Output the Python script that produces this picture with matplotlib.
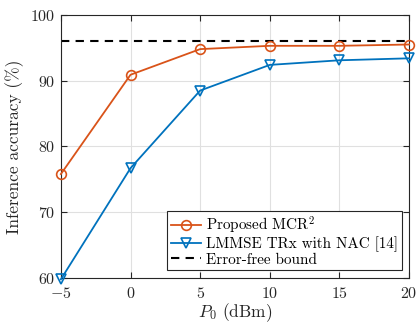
import numpy as np
import matplotlib
matplotlib.use("Agg")
import matplotlib.pyplot as plt

plt.rcParams['font.family'] = 'serif'
plt.rcParams['font.serif'] = ['cmr10']
plt.rcParams['mathtext.fontset'] = 'cm'
plt.rcParams['axes.formatter.use_mathtext'] = True

potencia_dbm = [-5, 0, 5, 10, 15, 20]
precision_mcr2 = [75.8, 90.9, 94.8, 95.3, 95.3, 95.5]
precision_lmmse = [59.8, 76.7, 88.5, 92.4, 93.1, 93.4]
cota_sin_error = 96.0
marcas_y = [60, 70, 80, 90, 100]

fig = plt.figure(figsize=(4.17, 3.24), dpi=100)
ax = fig.add_axes([0.146, 0.142, 0.835, 0.812])

ax.plot(potencia_dbm, precision_mcr2, color='#D95319', lw=1.3, marker='o', ms=7,
        mfc='none', mew=1.2, label=r'Proposed MCR$^2$', clip_on=False, zorder=3)
ax.plot(potencia_dbm, precision_lmmse, color='#0072BD', lw=1.3, marker='v', ms=7.5,
        mfc='none', mew=1.2, label='LMMSE TRx with NAC [14]', clip_on=False, zorder=3)
ax.axhline(cota_sin_error, color='black', lw=1.5, ls=(0, (4, 3)), label='Error-free bound')

ax.set_xlim(-5, 20)
ax.set_ylim(60, 100)
ax.set_xticks(potencia_dbm)
ax.set_yticks(marcas_y)
ax.set_xticklabels([f'${v}$' if v >= 0 else f'$-{abs(v)}$' for v in potencia_dbm])
ax.set_yticklabels([f'${v}$' for v in marcas_y])
ax.tick_params(direction='in', top=True, right=True, labelsize=11.5, length=4,
               colors='0.15', labelcolor='0.15')
ax.tick_params(axis='x', pad=6)
ax.tick_params(axis='y', pad=4)
ax.grid(True, color='0.88', lw=0.8)
ax.set_axisbelow(True)
for s in ax.spines.values():
    s.set_color('0.15')
    s.set_linewidth(0.8)

ax.set_xlabel(r'$P_0$ (dBm)', fontsize=12.5, color='0.15', labelpad=0)
ax.set_ylabel('Inference accuracy (%)', fontsize=12.5, color='0.15', labelpad=4)

leg = ax.legend(loc='lower right', fontsize=10.9, frameon=True, fancybox=False,
                edgecolor='0.15', framealpha=1, borderpad=0.25, labelspacing=0.05,
                handlelength=2.0, handletextpad=0.3, borderaxespad=0.5)
leg.get_frame().set_linewidth(0.8)

fig.savefig('out.png', dpi=100)
